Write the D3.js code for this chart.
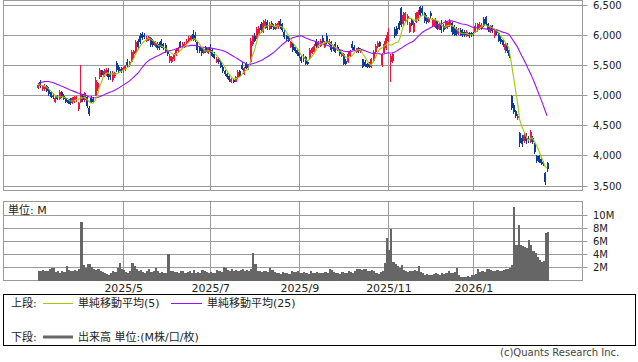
<!DOCTYPE html>
<html>
<head>
<meta charset="utf-8">
<script src="https://cdn.jsdelivr.net/npm/d3@7"></script>
<style>
  body { margin: 0; background: #fff; }
  text { font-family: "DejaVu Sans", "Noto Sans CJK JP", sans-serif; fill: #222; }
</style>
</head>
<body>
<div id="chart"></div>
<script>
// closes before the first drawn day, only used to start the moving averages
const warmupClose = [4850,4880,4900,5000,5080,5150,5220,5280,5300,5350,5380,5320,
  5300,5280,5250,5300,5330,5290,5260,5250,5220,5200,5180,5170];

const open = [
  5120,5220,5110,5100,5150,5100,5050,5000,4900,4990,
  4940,5050,5000,4960,4920,4940,4880,4900,4920,4780,
  4900,5000,4930,4980,4800,4960,4950,5000,5100,5300,
  5420,5330,5350,5430,5360,5260,5330,5540,5470,5440,
  5400,5420,5560,5500,5560,5680,5720,5900,5990,6020,
  6010,5900,5920,5950,5900,5820,5870,5860,5900,5850,
  5830,5750,5580,5560,5600,5680,5740,5880,5800,5800,
  5850,5900,5920,6020,6000,5890,5800,5780,5700,5800,
  5700,5800,5750,5680,5560,5620,5560,5480,5400,5350,
  5320,5230,5260,5230,5300,5400,5500,5360,5520,5500,
  5560,5860,5990,5950,6000,6180,6060,6130,6220,6100,
  6200,6150,6100,6130,6230,6180,6060,5990,5960,5800,
  5860,5800,5760,5720,5640,5640,5630,5560,5620,5700,
  5720,5880,5800,5820,5960,5800,5980,5850,5880,5800,
  5860,5800,5750,5650,5680,5580,5560,5660,5850,5800,
  5720,5780,5720,5600,5560,5520,5530,5470,5580,5720,
  5800,5880,5500,5700,5780,5900,5560,5580,6100,6120,
  6200,6450,6180,6240,6260,6060,6250,6050,6210,6250,
  6470,6450,6360,6300,6220,6370,6150,6140,6230,6100,
  6200,6150,6120,6130,6150,6200,6150,6110,6020,6090,
  6060,6050,5990,6040,6030,6040,6050,6080,6100,6100,
  6260,6300,6180,6050,6150,5980,6080,6040,5940,5920,
  5760,5850,5750,5000,4850,4740,4620,4380,4300,4250,
  4360,4300,4230,4300,4200,4000,3990,3950,3900,3720,
  3880];

const high = [
  5200,5260,5180,5190,5170,5140,5070,5040,4990,5010,
  5090,5070,5020,4980,4950,4960,4980,4990,5000,4900,
  5500,5020,5060,5000,4820,4990,4980,5300,5230,5460,
  5430,5440,5450,5460,5400,5400,5390,5570,5500,5480,
  5470,5510,5600,5580,5760,5760,5920,5930,6040,6060,
  6040,5980,5990,5970,5930,5900,5880,5880,5930,5870,
  5870,5760,5680,5660,5700,5780,5800,5900,5880,5880,
  5930,5980,6000,6080,6060,5900,5820,5810,5790,5820,
  5800,5850,5780,5720,5630,5640,5580,5500,5420,5370,
  5340,5290,5280,5330,5420,5420,5560,5470,5550,5530,
  5950,6010,6040,6140,6150,6220,6250,6270,6250,6220,
  6230,6180,6200,6230,6260,6200,6080,6010,5980,5900,
  5870,5820,5780,5740,5660,5680,5650,5590,5790,5810,
  5850,5930,5900,5930,6000,5900,6040,5930,5900,5820,
  5880,5830,5770,5720,5700,5600,5720,5760,5900,5840,
  5790,5800,5780,5610,5590,5540,5550,5620,5760,5850,
  5900,5900,5710,5900,6000,6120,5680,5700,6140,6150,
  6230,6470,6380,6390,6350,6220,6270,6230,6390,6420,
  6490,6480,6380,6330,6300,6400,6290,6280,6240,6210,
  6250,6180,6250,6240,6260,6210,6170,6130,6120,6120,
  6100,6080,6080,6060,6060,6060,6200,6200,6210,6200,
  6300,6320,6200,6170,6170,6100,6110,6060,5980,5940,
  5870,5870,5760,5010,4880,4760,4690,4400,4350,4400,
  4380,4330,4430,4330,4220,4020,4010,3980,3920,3730,
  3900];

const low = [
  5100,5130,5080,5080,5060,5000,4960,4950,4870,4920,
  4930,4960,4930,4880,4860,4840,4860,4880,4900,4740,
  4880,4900,4900,4800,4660,4870,4880,4990,5080,5280,
  5300,5310,5330,5250,5260,5230,5290,5390,5380,5380,
  5380,5400,5470,5480,5550,5620,5700,5760,5850,5920,
  5940,5880,5900,5800,5800,5800,5750,5760,5790,5760,
  5700,5660,5540,5540,5580,5660,5720,5780,5780,5780,
  5830,5880,5900,5900,5890,5700,5700,5660,5680,5700,
  5690,5700,5640,5600,5540,5530,5460,5380,5320,5280,
  5230,5210,5200,5220,5280,5310,5420,5340,5440,5430,
  5540,5820,5880,5940,5980,6040,6040,6110,6080,6090,
  6100,6080,6080,6110,6100,6060,5940,5900,5880,5780,
  5720,5700,5660,5620,5540,5560,5500,5500,5600,5680,
  5700,5790,5780,5800,5860,5780,5850,5830,5720,5740,
  5700,5730,5660,5640,5500,5500,5540,5640,5760,5730,
  5710,5700,5700,5450,5470,5460,5460,5460,5560,5700,
  5790,5800,5470,5690,5760,5880,5224,5540,5960,5980,
  6080,6130,6160,6220,6170,6040,6150,6030,6200,6230,
  6300,6330,6200,6180,6200,6280,6130,6120,6080,6080,
  6040,6050,6100,6110,6130,6000,5980,5980,6000,5990,
  5970,5970,5970,5960,5970,5980,6040,6060,6080,6080,
  6130,6160,6050,6030,6040,5950,6000,5880,5860,5800,
  5710,5700,5620,4760,4700,4620,4590,4150,4150,4220,
  4200,4220,4210,4200,4030,3880,3880,3850,3830,3520,
  3740];

const close = [
  5170,5150,5160,5150,5080,5030,4980,4970,4960,4940,
  5050,4980,4950,4900,4880,4860,4960,4970,4980,4880,
  5020,4930,5040,4830,4700,4890,4900,5260,5200,5420,
  5340,5400,5430,5300,5300,5380,5370,5420,5400,5410,
  5460,5490,5500,5560,5720,5740,5880,5800,5880,5960,
  5970,5960,5970,5830,5840,5880,5780,5790,5810,5780,
  5730,5680,5660,5640,5680,5760,5790,5800,5860,5860,
  5910,5960,5980,5940,5920,5750,5740,5700,5770,5720,
  5780,5720,5660,5620,5610,5560,5480,5400,5350,5300,
  5260,5270,5220,5310,5390,5330,5440,5450,5460,5450,
  5900,5990,5900,6100,6120,6080,6200,6240,6120,6180,
  6130,6100,6180,6200,6130,6080,5970,5930,5900,5880,
  5750,5730,5690,5650,5570,5600,5520,5530,5760,5790,
  5820,5820,5880,5900,5880,5880,5870,5910,5750,5770,
  5720,5760,5690,5700,5530,5520,5690,5740,5780,5750,
  5780,5730,5760,5480,5490,5480,5470,5600,5720,5820,
  5870,5820,5680,5860,5950,6050,5650,5680,5990,6020,
  6100,6170,6340,6360,6320,6200,6170,6200,6360,6390,
  6330,6360,6230,6210,6280,6310,6270,6250,6110,6180,
  6080,6080,6220,6210,6230,6050,6020,6010,6100,6010,
  6000,6000,6050,5990,6000,6010,6160,6180,6170,6160,
  6150,6180,6080,6150,6070,6080,6030,5910,5880,5830,
  5850,5740,5650,4800,4730,4660,4660,4220,4200,4350,
  4240,4260,4400,4230,4060,3920,3900,3880,3860,3560,
  3780];

// volume in millions of shares
const volume = [
  1.4,1.5,1.6,1.4,1.5,1.7,2.0,1.9,1.3,1.5,
  1.2,1.4,1.3,2.3,1.6,1.5,1.4,1.6,1.5,1.7,
  9.1,2.4,1.9,2.6,2.5,2.1,1.8,1.6,1.7,1.5,
  1.3,1.2,1.0,0.9,1.1,1.4,1.3,2.0,2.7,1.8,
  1.6,1.3,1.2,1.4,2.7,2.3,1.7,1.5,1.6,1.3,
  1.2,1.4,1.8,1.3,1.4,2.0,1.4,1.2,1.3,1.1,
  1.2,4.1,1.5,1.4,1.3,1.3,1.2,1.4,1.5,1.2,
  1.3,1.4,1.2,1.6,1.2,1.3,1.1,1.6,1.4,1.3,
  1.2,1.3,1.1,1.2,1.6,1.5,1.3,2.1,2.0,1.6,
  1.5,1.7,1.5,1.6,1.5,1.6,1.7,1.5,1.6,1.5,
  1.8,4.3,2.6,1.5,1.4,1.3,1.5,1.4,1.3,1.9,
  1.6,1.3,1.1,1.2,1.0,1.3,1.1,1.2,1.0,1.4,
  1.3,1.3,1.4,1.2,1.1,1.3,1.2,1.0,1.4,1.2,
  1.1,1.3,1.2,1.1,1.2,1.3,1.2,1.8,1.6,1.3,
  1.1,1.2,1.0,1.3,1.1,1.2,1.4,1.3,1.2,1.4,
  1.7,1.8,1.6,1.7,1.8,1.5,1.4,1.6,1.5,1.2,
  1.0,1.3,1.4,2.7,6.5,4.7,7.9,2.9,2.5,2.2,
  2.0,2.4,1.6,1.4,1.3,1.5,1.4,1.6,1.5,2.3,
  1.3,1.1,0.9,1.0,0.8,0.9,1.0,1.1,1.0,0.9,
  1.1,1.0,1.2,1.5,1.2,1.1,1.3,2.0,0.9,0.6,
  0.6,0.5,0.7,0.6,0.9,0.9,1.0,1.7,1.3,1.4,
  1.3,1.7,1.8,1.6,1.5,1.5,1.6,1.4,1.5,1.6,
  1.7,1.8,1.9,2.4,11.4,5.5,8.6,5.5,5.3,5.2,
  5.0,6.2,5.5,4.5,4.2,3.6,3.1,2.9,3.0,7.4,
  7.5];

const monthIndex = [41, 82, 124, 166, 206];
const monthLabels = ['2025/5', '2025/7', '2025/9', '2025/11', '2026/1'];
const priceTicks = [3500, 4000, 4500, 5000, 5500, 6000, 6500];
const volumeTicks = [2, 4, 6, 8, 10];

[open, high, low, close, volume].forEach(a => {
  if (a.length !== close.length) throw new Error('length mismatch ' + a.length);
});

const width = 638;
const height = 362;
const left = 3.5, right = 582.5;
const priceTop = 0.5, priceBottom = 190.5;
const volTop = 201.5, volBottom = 280.5;
const gridColor = '#9a9a9a';
const upColor = '#f0143c';
const downColor = '#0d3a9c';

const svg = d3.select('#chart').append('svg')
  .attr('width', width)
  .attr('height', height);

const n = close.length;
const x = d3.scaleLinear().domain([0, n - 1]).range([37.8, 37.8 + 2.122 * (n - 1)]);
const yPrice = d3.scaleLinear().domain([3500, 6500]).range([186, 5]);
const yVol = d3.scaleLinear().domain([0, 12.2]).range([volBottom, volTop]);
const crisp = v => Math.floor(v) + 0.5;

// moving averages over the closes
const allClose = warmupClose.concat(close);
const movingAverage = len => close.map((c, i) => {
  const end = i + warmupClose.length;
  return d3.mean(allClose.slice(end - len + 1, end + 1));
});
const ma5 = movingAverage(5);
const ma25 = movingAverage(25);

// grid
const grid = svg.append('g').attr('stroke', gridColor).attr('stroke-width', 1);

grid.selectAll('.pgrid')
  .data(priceTicks)
  .enter()
  .append('line')
  .attr('x1', left)
  .attr('x2', right + 5)
  .attr('y1', d => crisp(yPrice(d)))
  .attr('y2', d => crisp(yPrice(d)));

grid.selectAll('.vgrid')
  .data(volumeTicks)
  .enter()
  .append('line')
  .attr('x1', left)
  .attr('x2', right + 5)
  .attr('y1', d => crisp(yVol(d)))
  .attr('y2', d => crisp(yVol(d)));

monthIndex.forEach(idx => {
  const gx = crisp(x(idx - 0.5));
  grid.append('line').attr('x1', gx).attr('x2', gx).attr('y1', priceTop).attr('y2', priceBottom);
  grid.append('line').attr('x1', gx).attr('x2', gx).attr('y1', volTop).attr('y2', volBottom);
});

grid.append('rect')
  .attr('x', left).attr('y', priceTop)
  .attr('width', right - left).attr('height', priceBottom - priceTop)
  .attr('fill', 'none');
grid.append('rect')
  .attr('x', left).attr('y', volTop)
  .attr('width', right - left).attr('height', volBottom - volTop)
  .attr('fill', 'none');

// axis labels
svg.selectAll('.plabel')
  .data(priceTicks)
  .enter()
  .append('text')
  .attr('x', 593)
  .attr('y', d => yPrice(d) + 3.6)
  .attr('font-size', 10)
  .text(d => d3.format(',')(d));

svg.selectAll('.vlabel')
  .data(volumeTicks)
  .enter()
  .append('text')
  .attr('x', 593)
  .attr('y', d => yVol(d) + 3.6)
  .attr('font-size', 10)
  .text(d => d + 'M');

svg.selectAll('.xlabel')
  .data(monthIndex)
  .enter()
  .append('text')
  .attr('x', d => x(d - 0.5))
  .attr('y', 292)
  .attr('text-anchor', 'middle')
  .attr('font-size', 11)
  .text((d, i) => monthLabels[i]);

svg.append('text')
  .attr('x', 8).attr('y', 213.5)
  .attr('font-size', 11)
  .text('単位: M');

// volume bars
svg.append('g')
  .attr('fill', '#666')
  .attr('shape-rendering', 'crispEdges')
  .selectAll('rect')
  .data(volume)
  .enter()
  .append('rect')
  .attr('x', (d, i) => x(i) + 0.2)
  .attr('width', 2.15)
  .attr('y', d => yVol(d))
  .attr('height', d => volBottom - yVol(d));

// candles
const days = d3.range(n);
const candles = svg.append('g').attr('shape-rendering', 'crispEdges');

candles.selectAll('line')
  .data(days)
  .enter()
  .append('line')
  .attr('x1', i => x(i) + 0.5)
  .attr('x2', i => x(i) + 0.5)
  .attr('y1', i => yPrice(high[i]))
  .attr('y2', i => yPrice(low[i]))
  .attr('stroke', i => close[i] >= open[i] ? upColor : downColor)
  .attr('stroke-width', 1);

candles.selectAll('rect')
  .data(days)
  .enter()
  .append('rect')
  .attr('x', i => x(i) - 0.5)
  .attr('width', 2)
  .attr('y', i => yPrice(Math.max(open[i], close[i])))
  .attr('height', i => Math.max(1, Math.abs(yPrice(open[i]) - yPrice(close[i]))))
  .attr('fill', i => close[i] >= open[i] ? upColor : downColor);

// moving average lines
const maLine = d3.line()
  .x((d, i) => x(i))
  .y(d => yPrice(d));

svg.append('path')
  .attr('d', maLine(ma25))
  .attr('fill', 'none')
  .attr('stroke', '#9a10ff')
  .attr('stroke-width', 1.1);

svg.append('path')
  .attr('d', maLine(ma5))
  .attr('fill', 'none')
  .attr('stroke', '#9ccc00')
  .attr('stroke-width', 1.1);

// legend
const legend = svg.append('g');
legend.append('rect')
  .attr('x', 3.5).attr('y', 294.5)
  .attr('width', 632).attr('height', 51)
  .attr('fill', 'none').attr('stroke', '#000');

legend.append('text').attr('x', 11).attr('y', 307).attr('font-size', 11).text('上段:');
legend.append('line').attr('x1', 43).attr('x2', 73).attr('y1', 303.5).attr('y2', 303.5)
  .attr('stroke', '#9ccc00').attr('stroke-width', 1);
legend.append('text').attr('x', 78).attr('y', 307).attr('font-size', 11).text('単純移動平均(5)');
legend.append('line').attr('x1', 171).attr('x2', 202).attr('y1', 303.5).attr('y2', 303.5)
  .attr('stroke', '#9a10ff').attr('stroke-width', 1);
legend.append('text').attr('x', 207).attr('y', 307).attr('font-size', 11).text('単純移動平均(25)');

legend.append('text').attr('x', 11).attr('y', 341).attr('font-size', 11).text('下段:');
legend.append('line').attr('x1', 43).attr('x2', 73).attr('y1', 337).attr('y2', 337)
  .attr('stroke', '#666').attr('stroke-width', 3);
legend.append('text').attr('x', 78).attr('y', 341).attr('font-size', 11).text('出来高 単位:(M株/口/枚)');

svg.append('text')
  .attr('x', 500).attr('y', 355.5)
  .attr('font-size', 10)
  .attr('fill', '#444')
  .style('fill', '#444')
  .text('(c)Quants Research Inc.');
</script>
</body>
</html>
